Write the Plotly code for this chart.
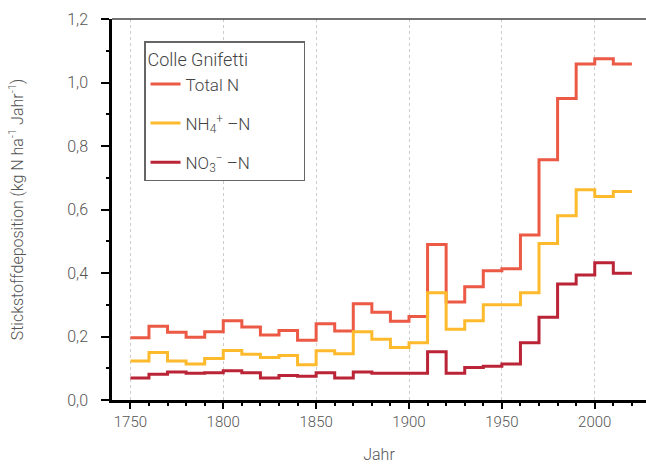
import plotly.graph_objects as go

# decade edges (start of each decade, plus final end year)
years = [1750, 1760, 1770, 1780, 1790, 1800, 1810, 1820, 1830, 1840,
         1850, 1860, 1870, 1880, 1890, 1900, 1910, 1920, 1930, 1940,
         1950, 1960, 1970, 1980, 1990, 2000, 2010, 2020]

total_n = [0.196, 0.232, 0.213, 0.198, 0.215, 0.250, 0.230, 0.205, 0.219, 0.188,
           0.240, 0.217, 0.303, 0.276, 0.248, 0.263, 0.490, 0.309, 0.357, 0.407,
           0.413, 0.520, 0.757, 0.950, 1.058, 1.075, 1.058]

nh4_n = [0.123, 0.150, 0.123, 0.113, 0.131, 0.156, 0.144, 0.134, 0.140, 0.111,
         0.155, 0.146, 0.215, 0.191, 0.165, 0.180, 0.338, 0.223, 0.250, 0.300,
         0.300, 0.338, 0.493, 0.580, 0.662, 0.641, 0.657]

no3_n = [0.069, 0.081, 0.088, 0.084, 0.086, 0.092, 0.086, 0.069, 0.077, 0.075,
         0.086, 0.069, 0.088, 0.084, 0.084, 0.084, 0.152, 0.084, 0.102, 0.106,
         0.113, 0.180, 0.261, 0.365, 0.394, 0.432, 0.399]

series_names = ["Total N", "NH<sub>4</sub><sup>+</sup> –N", "NO<sub>3</sub><sup>−</sup> –N"]
colors = ["#EC5A45", "#FDBA2C", "#BA2436"]

x_ticks = [1750, 1800, 1850, 1900, 1950, 2000]
y_ticks = [0.0, 0.2, 0.4, 0.6, 0.8, 1.0, 1.2]

FONT = "Roboto, sans-serif"
GRAY = "#555555"

fig = go.Figure()
for i, (name, vals) in enumerate(zip(series_names, [total_n, nh4_n, no3_n])):
    fig.add_trace(go.Scatter(
        x=years, y=vals + [vals[-1]], mode="lines", name=name,
        line=dict(color=colors[i], width=3, shape="hv"),
        legendgroup=f"g{i}",
    ))

fig.update_layout(
    width=646, height=464,
    margin=dict(l=112, r=0, t=19, b=60),
    paper_bgcolor="white", plot_bgcolor="white",
    separators=",.",
    font=dict(family=FONT, size=15, color=GRAY, weight=300),
    legend=dict(
        title=dict(text="Colle Gnifetti" + "\u00a0" * 12,
                   font=dict(family=FONT, size=18, color="#444", weight=300)),
        x=0.06, y=0.941, xanchor="left", yanchor="top",
        bordercolor="#666", borderwidth=1.5, bgcolor="white",
        font=dict(family=FONT, size=17, color="#444", weight=300),
        tracegroupgap=14,
    ),
    shapes=[dict(type="line", xref="paper", yref="paper", x0=0, x1=1, y0=1, y1=1,
                 line=dict(color="#444", width=1.5))],
)

fig.update_xaxes(
    range=[1740.1, 2027.6], tickvals=x_ticks,
    showline=True, linecolor="black", linewidth=2.5,
    ticks="outside", ticklen=6, tickwidth=2, tickcolor="black",
    tickfont=dict(family=FONT, size=15, color=GRAY, weight=300),
    showgrid=True, gridcolor="#cccccc", griddash="dot", gridwidth=1,
    zeroline=False,
    minor=dict(dtick=10, tick0=1750, ticks="outside", ticklen=3, tickwidth=2,
               tickcolor="black", showgrid=False),
    title=dict(text="Jahr", font=dict(family=FONT, size=16, color=GRAY, weight=300), standoff=22),
)
fig.update_yaxes(
    range=[0, 1.2], tickvals=y_ticks, tickformat=".1f",
    showline=True, linecolor="black", linewidth=2.5,
    ticks="outside", ticklen=8, tickwidth=2, tickcolor="black",
    ticklabelstandoff=10,
    tickfont=dict(family=FONT, size=16, color=GRAY, weight=300),
    showgrid=False, zeroline=False,
    minor=dict(dtick=0.1, tick0=0, ticks="outside", ticklen=3, tickwidth=2,
               tickcolor="black", showgrid=False),
    title=dict(text="Stickstoffdeposition (kg N ha<sup>-1</sup> Jahr<sup>-1</sup>)",
               font=dict(family=FONT, size=16, color=GRAY, weight=300), standoff=40),
)

fig.write_html("out.html", config={"displayModeBar": False},
               post_script="document.body.style.margin='0px';")
